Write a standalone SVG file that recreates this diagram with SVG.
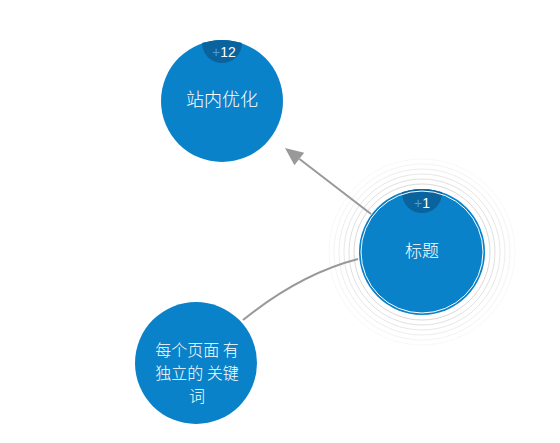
<svg xmlns="http://www.w3.org/2000/svg" width="560" height="443" viewBox="0 0 560 443">
<defs>
<style>
.node{fill:#0a82c9}
.badge{fill:#0b639e}
.lbl{fill:#ffffff;font-family:"Noto Sans CJK SC","Liberation Sans",sans-serif;text-anchor:middle;font-weight:300}
.bt{font-family:"Liberation Sans","DejaVu Sans",sans-serif;text-anchor:middle;font-size:14px}
.ring{fill:none;stroke:#cfcfcf;stroke-width:1}
.edge{fill:none;stroke:#999999;stroke-width:2}
</style>
<clipPath id="c1"><circle cx="222" cy="101" r="61"/></clipPath>
<clipPath id="c2"><circle cx="422" cy="252" r="63"/></clipPath>
</defs>
<rect width="560" height="443" fill="#ffffff"/>
<g id="rings">
<circle class="ring" cx="422" cy="252" r="68" opacity="0.8"/>
<circle class="ring" cx="422" cy="252" r="73" opacity="0.65"/>
<circle class="ring" cx="422" cy="252" r="78" opacity="0.5"/>
<circle class="ring" cx="422" cy="252" r="83" opacity="0.38"/>
<circle class="ring" cx="422" cy="252" r="88" opacity="0.25"/>
<circle class="ring" cx="422" cy="252" r="93" opacity="0.14"/>
</g>
<g id="connectors">
<line class="edge" x1="371" y1="214" x2="299.5" y2="159"/>
<path d="M285,148 L304.2,152.7 L294.4,165.3 z" fill="#999999"/>
<path class="edge" d="M243,320 Q300,274 358,259"/>
</g>
<g id="node-zhannei">
<circle class="node" cx="222" cy="101" r="61"/>
<circle class="badge" cx="222" cy="43" r="20" clip-path="url(#c1)"/>
<text class="bt" x="224" y="57"><tspan fill="#4c9fd6">+</tspan><tspan fill="#ffffff">12</tspan></text>
<text class="lbl" x="222" y="106" font-size="18">站内优化</text>
</g>
<g id="node-biaoti">
<circle class="node" cx="422" cy="252" r="63"/>
<circle class="badge" cx="422" cy="193" r="20" clip-path="url(#c2)"/>
<circle cx="422" cy="252" r="61" fill="none" stroke="#ffffff" stroke-width="1"/>
<text class="bt" x="422" y="208" font-size="13"><tspan fill="#4c9fd6">+</tspan><tspan fill="#ffffff">1</tspan></text>
<text class="lbl" x="422" y="257" font-size="17">标题</text>
</g>
<g id="node-keyword">
<circle class="node" cx="196" cy="363" r="61"/>
<text class="lbl" font-size="16"><tspan x="197" y="356">每个页面 有</tspan><tspan x="197" y="379">独立的 关键</tspan><tspan x="197" y="402">词</tspan></text>
</g>
</svg>
